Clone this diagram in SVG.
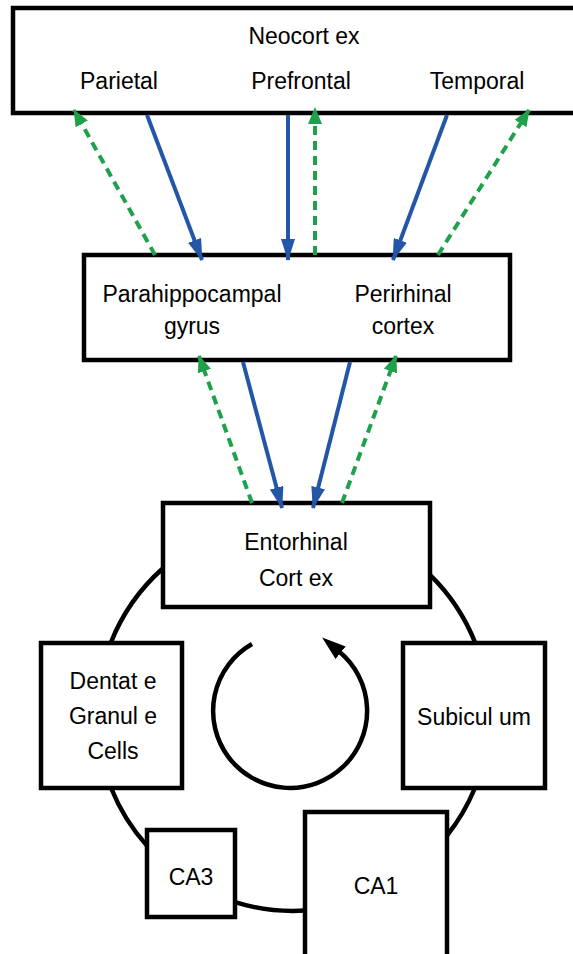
<svg xmlns="http://www.w3.org/2000/svg" width="573" height="954" viewBox="0 0 573 954">
<defs>
<style>
.box{fill:#fff;stroke:#000;stroke-width:4.5}
.t{font-family:"Liberation Sans",Arial,sans-serif;font-size:23px;fill:#000;text-anchor:middle}
.blue{stroke:#2456a8;stroke-width:4;fill:none;marker-end:url(#hb)}
.green{stroke:#1fa04a;stroke-width:4;fill:none;stroke-dasharray:9 6;marker-end:url(#hg)}
.arc{stroke:#000;stroke-width:4.5;fill:none}
</style>
<marker id="hb" markerUnits="userSpaceOnUse" markerWidth="22" markerHeight="14" refX="21" refY="7" orient="auto"><path d="M0,0 L22,7 L0,14 z" fill="#2456a8"/></marker>
<marker id="hg" markerUnits="userSpaceOnUse" markerWidth="17" markerHeight="14" refX="16" refY="7" orient="auto"><path d="M0,0 L17,7 L0,14 z" fill="#1fa04a"/></marker>
<marker id="hk" markerUnits="userSpaceOnUse" markerWidth="24" markerHeight="16" refX="2" refY="8" orient="auto"><path d="M0,0 L24,8 L0,16 z" fill="#000"/></marker>
</defs>
<g id="neocortex">
<rect class="box" x="13" y="8" width="580" height="105"/>
<text class="t" x="304" y="44">Neocort ex</text>
<text class="t" x="119" y="89">Parietal</text>
<text class="t" x="301" y="89">Prefrontal</text>
<text class="t" x="477" y="89">Temporal</text>
</g>
<g id="parahippocampal">
<rect class="box" x="84" y="255" width="426" height="105"/>
<text class="t" x="192" y="302">Parahippocampal</text>
<text class="t" x="192" y="334">gyrus</text>
<text class="t" x="403" y="302">Perirhinal</text>
<text class="t" x="403" y="334">cortex</text>
</g>
<g id="entorhinal">
<rect class="box" x="163" y="503" width="267" height="104"/>
<text class="t" x="296" y="550">Entorhinal</text>
<text class="t" x="296" y="586">Cort ex</text>
</g>
<g id="dentate">
<rect class="box" x="41" y="643" width="141" height="145"/>
<text class="t" x="113" y="689">Dentat e</text>
<text class="t" x="113" y="724">Granul e</text>
<text class="t" x="113" y="759">Cells</text>
</g>
<g id="subiculum">
<rect class="box" x="403" y="643" width="142" height="145"/>
<text class="t" x="474" y="725">Subicul um</text>
</g>
<g id="ca3">
<rect class="box" x="147" y="830" width="88" height="87"/>
<text class="t" x="191" y="885">CA3</text>
</g>
<g id="ca1">
<rect class="box" x="305" y="812" width="142" height="150"/>
<text class="t" x="376" y="894">CA1</text>
</g>
<g id="connectors">
<path class="green" d="M155,255 L74,110"/>
<path class="blue" d="M147,115 L202,260"/>
<path class="blue" d="M288,115 L288,260"/>
<path class="green" d="M315,255 L315,108"/>
<path class="blue" d="M447,115 L393,260"/>
<path class="green" d="M438,255 L529,110"/>
<path class="green" d="M252,503 L199,356"/>
<path class="blue" d="M243,362 L282,508"/>
<path class="blue" d="M350,362 L313,508"/>
<path class="green" d="M342,503 L396,356"/>
<path class="arc" d="M163,568.3 A196,196 0 0 0 110.7,643"/>
<path class="arc" d="M111.1,788 A196,196 0 0 0 147,845.8"/>
<path class="arc" d="M235,902.2 A196,196 0 0 0 305,910.6"/>
<path class="arc" d="M447,835.5 A196,196 0 0 0 474.9,788"/>
<path class="arc" d="M475.3,643 A196,196 0 0 0 430,574.8"/>
<path class="arc" d="M252,644 A77,77 0 1 0 339.1,651.5" marker-end="url(#hk)"/>
</g>
</svg>
